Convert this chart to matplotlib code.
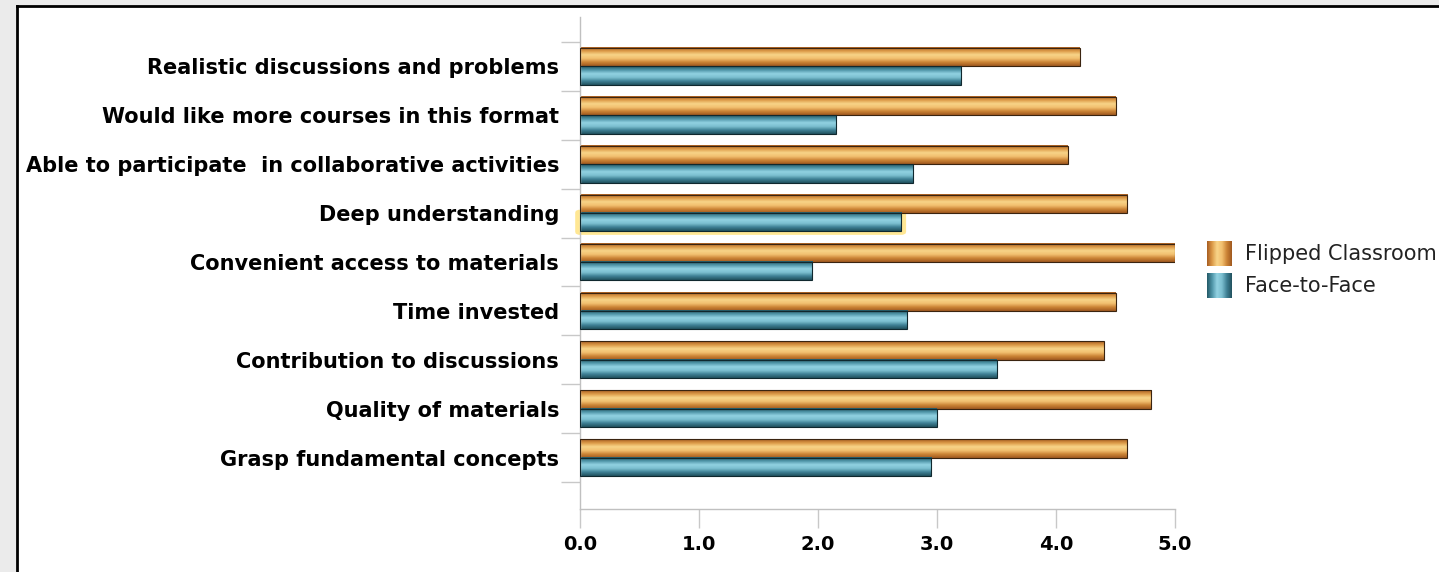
import numpy as np
import matplotlib.pyplot as plt
from matplotlib.colors import LinearSegmentedColormap
from matplotlib.patches import Rectangle, FancyBboxPatch
from matplotlib.lines import Line2D

# data, top to bottom as in the chart
categories = ["Realistic discussions and problems",
              "Would like more courses in this format",
              "Able to participate  in collaborative activities",
              "Deep understanding",
              "Convenient access to materials",
              "Time invested",
              "Contribution to discussions",
              "Quality of materials",
              "Grasp fundamental concepts"]
flipped = [4.2, 4.5, 4.1, 4.6, 5.0, 4.5, 4.4, 4.8, 4.6]
face = [3.2, 2.15, 2.8, 2.7, 1.95, 2.75, 3.5, 3.0, 2.95]
series_names = ["Flipped Classroom", "Face-to-Face"]
xticks = [0, 1, 2, 3, 4, 5]

W, H = 1439, 572
fig = plt.figure(figsize=(W / 100, H / 100), dpi=100)
fig.patch.set_facecolor("white")

# gray strip around the screenshot frame
fig.patches.append(Rectangle((0, 1 - 6 / H), 1, 6 / H, transform=fig.transFigure,
                             facecolor="#ebebeb", edgecolor="none", zorder=0))
fig.patches.append(Rectangle((0, 0), 17 / W, 1, transform=fig.transFigure,
                             facecolor="#ebebeb", edgecolor="none", zorder=0))
fig.lines.append(Line2D([17 / W, 1], [1 - 6 / H, 1 - 6 / H], transform=fig.transFigure,
                        color="black", lw=2))
fig.lines.append(Line2D([17 / W, 17 / W], [0, 1 - 6 / H], transform=fig.transFigure,
                        color="black", lw=2))

ax = fig.add_axes([580 / W, 1 - 509 / H, (1175 - 580) / W, (509 - 17) / H])

orange_cmap = LinearSegmentedColormap.from_list(
    "o", ["#a85e22", "#dc9a48", "#f8d488", "#f2c070", "#cc8436", "#a05a20"])
teal_cmap = LinearSegmentedColormap.from_list(
    "t", ["#245a68", "#4f95a8", "#92d2e2", "#7cbfd0", "#3e8094", "#22525f"])

y = np.arange(len(categories))
h = 0.375
grad = np.linspace(0, 1, 64).reshape(-1, 1)

bars_o = ax.barh(y - h / 2, flipped, height=h, facecolor="none",
                 edgecolor="#3a2410", linewidth=0.8, zorder=3)
bars_t = ax.barh(y + h / 2, face, height=h, facecolor="none",
                 edgecolor="#10282e", linewidth=0.8, zorder=3)

for bars, cmap in [(bars_o, orange_cmap), (bars_t, teal_cmap)]:
    for b in bars:
        x0, y0 = b.get_x(), b.get_y()
        ax.imshow(grad, cmap=cmap, aspect="auto", interpolation="bilinear",
                  extent=[x0, x0 + b.get_width(), y0 + h, y0], zorder=2)

# selection glow around the Deep understanding bar
b = bars_t[3]
ax.add_patch(FancyBboxPatch((b.get_x(), b.get_y()), b.get_width(), h,
                            boxstyle="round,pad=0.02", facecolor="none",
                            edgecolor="#ffe27a", linewidth=3.5, alpha=0.8,
                            zorder=1, clip_on=False))

ax.set_xlim(0, 5)
ax.set_ylim(9.05, -1.01)

ax.set_xticks(xticks)
ax.set_xticklabels(["%.1f" % t for t in xticks], fontsize=14, fontweight="bold")
ax.set_yticks(y)
ax.set_yticklabels(categories, fontsize=15, fontweight="bold")
ax.set_yticks(np.arange(len(categories) + 1) - 0.5, minor=True)
ax.tick_params(axis="y", which="major", length=0, pad=15)
ax.tick_params(axis="y", which="minor", length=13.5, color="#c8c8c8", width=1)
ax.tick_params(axis="x", length=13.5, color="#c8c8c8", width=1, pad=5)

for s in ["top", "right"]:
    ax.spines[s].set_visible(False)
for s in ["left", "bottom"]:
    ax.spines[s].set_color("#c0c0c0")
    ax.spines[s].set_linewidth(1)

# legend with shaded swatches
for i, (name, cmap) in enumerate(zip(series_names, [orange_cmap, teal_cmap])):
    top = 241 + i * 32
    lax = fig.add_axes([1207 / W, 1 - (top + 25) / H, 25 / W, 25 / H])
    lax.imshow(grad.T, cmap=cmap, aspect="auto", interpolation="bilinear")
    lax.axis("off")
    fig.text(1245 / W, 1 - (top + 13) / H, name, fontsize=15, va="center",
             ha="left", color="#222222")

fig.savefig("out.png", dpi=100)
